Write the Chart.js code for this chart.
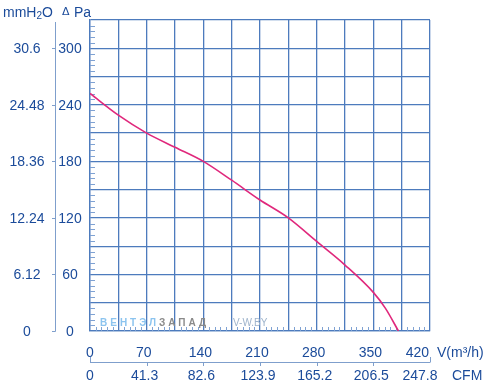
<!DOCTYPE html>
<html>
<head>
<meta charset="utf-8">
<script src="https://cdn.jsdelivr.net/npm/chart.js@4/dist/chart.umd.min.js"></script>
<style>
  body { margin: 0; background: #fff; }
  canvas { display: block; }
</style>
</head>
<body>
<canvas id="canvas" width="487" height="386"></canvas>
<script>
// fan curve
const flow = [0, 35, 70, 105, 140, 175, 210, 245, 280, 315, 350, 365, 381]
const pressure = [252, 229, 210, 195, 180, 160, 139, 120, 95, 70, 41, 24, 0]

const paTicks = [0, 60, 120, 180, 240, 300]
const mmTicks = ['0', '6.12', '12.24', '18.36', '24.48', '30.6']
const flowTicks = [0, 70, 140, 210, 280, 350, 420]
const cfmTicks = ['0', '41.3', '82.6', '123.9', '165.2', '206.5', '247.8']

const blue = '#1b4b9a'
const gridBlue = '#4d7bbd'
const font = '14px "Liberation Sans", Arial, sans-serif'

const ctx = document.getElementById('canvas').getContext('2d')

const extras = {
  id: 'extras',
  beforeDatasetsDraw(chart) {
    const c = chart.ctx
    const x = chart.scales.x, y = chart.scales.y
    const area = chart.chartArea
    c.save()
    // minor ticks inside the plot
    c.strokeStyle = '#7fa2d3'
    c.lineWidth = 1
    c.beginPath()
    for (let v = 6; v < 330; v += 6) {
      if (v % 30 === 0) continue
      const py = Math.round(y.getPixelForValue(v)) + 0.5
      c.moveTo(area.left, py); c.lineTo(area.left + 5, py)
    }
    for (let v = 7; v < 420; v += 7) {
      if (v % 35 === 0) continue
      const px = Math.round(x.getPixelForValue(v)) + 0.5
      c.moveTo(px, area.bottom); c.lineTo(px, area.bottom - 4)
    }
    c.stroke()
    // watermark
    c.font = 'bold 10px "Liberation Sans", Arial, sans-serif'
    c.textBaseline = 'middle'
    c.textAlign = 'left'
    c.letterSpacing = '3px'
    c.fillStyle = '#8cc4ef'
    c.fillText('ВЕНТЭЛ', 100, 323)
    const w = c.measureText('ВЕНТЭЛ').width
    c.fillStyle = '#8a8a8a'
    c.fillText('ЗАПАД', 100 + w, 323)
    c.letterSpacing = '0px'
    c.font = '10px "Liberation Sans", Arial, sans-serif'
    c.fillStyle = '#9fb4cc'
    c.fillText('V-W.BY', 233, 323)
    c.restore()
  },
  afterDraw(chart) {
    const c = chart.ctx
    const x = chart.scales.x, y = chart.scales.y
    const area = chart.chartArea
    c.save()
    c.font = font
    c.fillStyle = blue
    c.textAlign = 'center'
    c.textBaseline = 'middle'
    // left scales
    paTicks.forEach((v, i) => {
      const py = y.getPixelForValue(v)
      c.fillText(String(v), 70, py + 1)
      c.fillText(mmTicks[i], 27, py + 1)
    })
    c.strokeStyle = '#7f9fcc'
    c.lineWidth = 1
    c.beginPath()
    c.moveTo(55.5, 22); c.lineTo(55.5, area.bottom + 0.5)
    paTicks.forEach(v => {
      const py = Math.round(y.getPixelForValue(v)) + 0.5
      c.moveTo(52, py); c.lineTo(55.5, py)
    })
    // second bottom line
    c.moveTo(area.left, 362.5); c.lineTo(area.right, 362.5)
    flowTicks.forEach((v, i) => {
      const px = Math.round(x.getPixelForValue(v)) + 0.5
      if (i === 0 || i === flowTicks.length - 1) { c.moveTo(px, 362.5); c.lineTo(px, 357) }
      else { c.moveTo(px, 362.5); c.lineTo(px, 366) }
    })
    c.stroke()
    // bottom labels
    const last = flowTicks.length - 1
    flowTicks.forEach((v, i) => {
      const px = x.getPixelForValue(v)
      if (i === last) {
        c.textAlign = 'right'
        c.fillText(String(v), px - 1, 353)
        c.textAlign = 'center'
        c.fillText(cfmTicks[i], px - 10, 376)
      } else {
        c.fillText(String(v), px - (i ? 3 : 0), 353)
        c.fillText(cfmTicks[i], px - (i ? 2 : 0), 376)
      }
    })
    c.textAlign = 'left'
    c.fillText('V(m³/h)', 437, 353)
    c.fillText('CFM', 452, 376)
    // headers
    c.fillText('mm', 3, 13)
    let cx = 3 + c.measureText('mm').width
    c.fillText('H', cx, 13)
    cx += c.measureText('H').width
    c.font = '10px "Liberation Sans", Arial, sans-serif'
    c.fillText('2', cx, 16)
    cx += c.measureText('2').width
    c.font = font
    c.fillText('O', cx, 13)
    c.font = '11px "DejaVu Sans", sans-serif'
    c.fillText('Δ', 62, 12)
    c.font = font
    c.fillText('Pa', 74, 13)
    c.restore()
  }
}

new Chart(ctx, {
  type: 'scatter',
  data: {
    datasets: [{
      data: flow.map((f, i) => ({ x: f, y: pressure[i] })),
      showLine: true,
      borderColor: '#e0287c',
      borderWidth: 1.6,
      pointRadius: 0,
      cubicInterpolationMode: 'monotone'
    }]
  },
  options: {
    responsive: false,
    devicePixelRatio: 1,
    animation: false,
    layout: { padding: { top: 20, right: 57, bottom: 0, left: 0 } },
    plugins: { legend: { display: false }, tooltip: { enabled: false } },
    scales: {
      x: {
        type: 'linear', min: 0, max: 420,
        afterFit(scale) { scale.height = 55 },
        ticks: { stepSize: 35, display: false, autoSkip: false },
        grid: { color: gridBlue, lineWidth: 1.3, drawTicks: false },
        border: { color: gridBlue, width: 1.3 }
      },
      y: {
        min: 0, max: 330,
        afterFit(scale) { scale.width = 90 },
        ticks: { stepSize: 30, display: false },
        grid: { color: gridBlue, lineWidth: 1.3, drawTicks: false },
        border: { color: gridBlue, width: 1.3 }
      }
    }
  },
  plugins: [extras]
})
</script>
</body>
</html>
